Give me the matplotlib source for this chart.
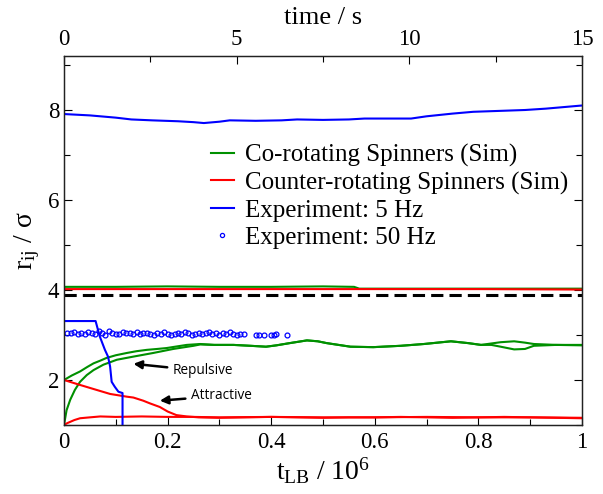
import matplotlib
matplotlib.use("Agg")
import matplotlib.pyplot as plt
from matplotlib.ticker import MultipleLocator
from matplotlib.lines import Line2D

plt.rcParams['font.family'] = ['Liberation Serif', 'DejaVu Serif']
plt.rcParams['mathtext.fontset'] = 'custom'
plt.rcParams['mathtext.rm'] = 'Liberation Serif'
plt.rcParams['mathtext.it'] = 'Liberation Serif:italic'

# ---------------- data ----------------
# Co-rotating (green), simulation time t_LB / 1e6
co_hi_t = [0.0, 0.1, 0.2, 0.3, 0.4, 0.5, 0.56, 0.57, 0.7, 0.85, 1.0]
co_hi_v = [4.07, 4.07, 4.08, 4.07, 4.07, 4.08, 4.07, 4.03, 4.03, 4.03, 4.03]

co_a_t = [0, 0.015, 0.031, 0.045, 0.057, 0.07, 0.082, 0.1, 0.121, 0.14, 0.16, 0.18,
          0.198, 0.22, 0.237, 0.25, 0.263, 0.29, 0.327, 0.36, 0.39, 0.41, 0.436, 0.469,
          0.49, 0.507, 0.53, 0.553, 0.597, 0.65, 0.695, 0.747, 0.78, 0.805, 0.843,
          0.869, 0.89, 0.907, 0.95, 1.0]
co_a_v = [2.0, 2.1, 2.19, 2.29, 2.37, 2.43, 2.49, 2.55, 2.6, 2.64, 2.67, 2.69,
          2.71, 2.75, 2.78, 2.79, 2.8, 2.78, 2.78, 2.76, 2.74, 2.77, 2.82, 2.88,
          2.86, 2.82, 2.78, 2.74, 2.73, 2.76, 2.8, 2.86, 2.82, 2.78, 2.84,
          2.86, 2.83, 2.8, 2.78, 2.78]

co_b_t = [0, 0.005, 0.012, 0.021, 0.031, 0.044, 0.057, 0.076, 0.102, 0.134, 0.172,
          0.211, 0.25, 0.263, 0.29, 0.327, 0.36, 0.39, 0.41, 0.436, 0.469, 0.49,
          0.507, 0.53, 0.553, 0.597, 0.65, 0.695, 0.747, 0.78, 0.805, 0.825, 0.843,
          0.869, 0.89, 0.907, 0.95, 1.0]
co_b_v = [1.0, 1.33, 1.56, 1.78, 1.96, 2.11, 2.22, 2.34, 2.45, 2.52, 2.6,
          2.69, 2.76, 2.79, 2.78, 2.78, 2.76, 2.74, 2.77, 2.82, 2.88, 2.86,
          2.82, 2.78, 2.74, 2.73, 2.76, 2.8, 2.86, 2.82, 2.78, 2.78, 2.74,
          2.68, 2.69, 2.76, 2.78, 2.77]

# Counter-rotating (red)
ct_hi_t = [0.0, 0.2, 0.4, 0.6, 0.8, 1.0]
ct_hi_v = [4.02, 4.02, 4.02, 4.02, 4.02, 4.01]

ct_a_t = [0, 0.031, 0.057, 0.089, 0.121, 0.134, 0.153, 0.166, 0.185, 0.2, 0.217,
          0.237, 0.26, 0.3, 0.35, 0.4, 0.45, 0.5, 0.55, 0.6, 0.65, 0.7, 0.75, 0.8,
          0.85, 0.9, 0.95, 1.0]
ct_a_v = [2.0, 1.89, 1.8, 1.69, 1.63, 1.61, 1.54, 1.48, 1.4, 1.3, 1.22,
          1.19, 1.17, 1.16, 1.17, 1.18, 1.17, 1.16, 1.17, 1.17, 1.18, 1.17, 1.16, 1.17,
          1.18, 1.17, 1.16, 1.15]

ct_b_t = [0, 0.006, 0.012, 0.02, 0.031, 0.05, 0.07, 0.1, 0.15, 0.2, 0.25, 0.3, 0.4,
          0.5, 0.6, 0.7, 0.8, 0.9, 1.0]
ct_b_v = [1.0, 1.04, 1.07, 1.11, 1.15, 1.17, 1.19, 1.18, 1.19, 1.18, 1.18, 1.17, 1.18,
          1.17, 1.17, 1.18, 1.17, 1.17, 1.16]

# Experiment 5 Hz (blue), real time in s
ex5_t = [0, 0.75, 1.5, 1.95, 2.55, 3.3, 3.75, 4.05, 4.5, 4.8, 5.55, 6.3, 6.75, 7.5,
         8.25, 8.7, 10.05, 10.5, 11.25, 11.85, 12.6, 13.35, 13.95, 14.55, 15.0]
ex5_v = [7.91, 7.88, 7.83, 7.79, 7.77, 7.75, 7.73, 7.71, 7.74, 7.77, 7.76, 7.77, 7.79, 7.78,
         7.79, 7.81, 7.81, 7.86, 7.92, 7.96, 7.98, 8.0, 8.03, 8.07, 8.1]

ex5b_t = [0, 0.915, 1.035, 1.185, 1.275, 1.335, 1.38, 1.47, 1.575, 1.695, 1.695]
ex5b_v = [3.31, 3.31, 2.97, 2.67, 2.52, 2.3, 1.96, 1.85, 1.74, 1.71, 0.5]

# Experiment 50 Hz (blue circles), real time in s
ex50_t = [0.1, 0.2, 0.3, 0.4, 0.5, 0.6, 0.7, 0.8, 0.9, 1.0, 1.1, 1.2, 1.3, 1.4, 1.5,
          1.6, 1.7, 1.8, 1.9, 2.0, 2.1, 2.2, 2.3, 2.4, 2.5, 2.6, 2.7, 2.8, 2.9, 3.0,
          3.1, 3.2, 3.3, 3.4, 3.5, 3.6, 3.7, 3.8, 3.9, 4.0, 4.1, 4.2, 4.3, 4.4, 4.5,
          4.6, 4.7, 4.8, 4.9, 5.0, 5.1, 5.2, 5.55, 5.65, 5.78, 6.0, 6.08, 6.15, 6.45]
ex50_v = [3.05, 3.04, 3.06, 3.03, 3.05, 3.02, 3.07, 3.04, 3.03, 3.08, 3.05, 3.01, 3.09, 3.04, 3.02,
          3.03, 3.06, 3.04, 3.05, 3.03, 3.06, 3.02, 3.04, 3.05, 3.03, 3.01, 3.04, 3.03, 3.06, 3.02,
          3.0, 3.03, 3.05, 3.02, 3.06, 3.04, 3.01, 3.03, 3.05, 3.02, 3.04, 3.06, 3.03, 3.05, 3.01,
          3.04, 3.02, 3.06, 3.03, 3.01, 3.03, 3.02, 3.0, 3.0, 3.0, 2.99, 3.01, 3.02, 3.0]

dash_level = 3.88

# ---------------- plot ----------------
fig = plt.figure(figsize=(6.03, 4.94), dpi=100)
ax = fig.add_axes([64/603, 1-425/494, (582-64)/603, (425-56)/494])
ax2 = ax.twiny()

GREEN = '#009000'
RED = '#ff0000'
BLUE = '#0000ff'
lw = 1.5

ax.axhline(dash_level, color='black', lw=2.2, ls=(0, (4, 2)))
ax.plot(co_hi_t, co_hi_v, color=GREEN, lw=lw)
ax.plot(ct_hi_t, ct_hi_v, color=RED, lw=lw)
ax.plot(co_a_t, co_a_v, color=GREEN, lw=lw)
ax.plot(co_b_t, co_b_v, color=GREEN, lw=lw)
ax.plot(ct_a_t, ct_a_v, color=RED, lw=lw)
ax.plot(ct_b_t, ct_b_v, color=RED, lw=lw)

ax2.plot(ex5_t, ex5_v, color=BLUE, lw=lw)
ax2.plot(ex5b_t, ex5b_v, color=BLUE, lw=lw)
ax2.plot(ex50_t, ex50_v, ls='none', marker='o', ms=3.5, mfc='none', mec=BLUE, mew=0.9)

ax.set_xlim(0, 1)
ax.set_ylim(1, 9.2)
ax2.set_xlim(0, 15)

ax.xaxis.set_minor_locator(MultipleLocator(0.1))
ax.yaxis.set_minor_locator(MultipleLocator(1))
ax2.xaxis.set_major_locator(MultipleLocator(5))
ax2.xaxis.set_minor_locator(MultipleLocator(2.5))

ax.set_xticks([0, 0.2, 0.4, 0.6, 0.8, 1.0])
ax.set_xticklabels(['0', '0.2', '0.4', '0.6', '0.8', '1'])
ax.set_yticks([2, 4, 6, 8])
ax.set_yticklabels(['2', '4', '6', '8'])

ax.tick_params(which='both', direction='in', right=True, labelsize=16.5)
ax.tick_params(which='major', length=6, width=0.8)
ax.tick_params(which='minor', length=4.5, width=0.8)
ax.tick_params(axis='x', pad=5)
ax2.tick_params(which='both', direction='in', labelsize=16.5)
ax2.tick_params(which='major', length=6, width=0.8)
ax2.tick_params(which='minor', length=4.5, width=0.8)
ax2.tick_params(axis='x', pad=4)

for a in (ax, ax2):
    for s in a.spines.values():
        s.set_linewidth(0.9)
        s.set_color('#222222')

ax.set_xlabel('t$_{\\rm LB}$ / 10$^6$', fontsize=20, labelpad=2)
ax.set_ylabel('r$_{\\rm ij}$ / σ', fontsize=20, labelpad=4)
ax2.set_xlabel('time / s', fontsize=19, labelpad=4)

handles = [Line2D([], [], color=GREEN, lw=lw),
           Line2D([], [], color=RED, lw=lw),
           Line2D([], [], color=BLUE, lw=lw),
           Line2D([], [], ls='none', marker='o', ms=3, mfc='none', mec=BLUE, mew=0.9)]
labels = ['Co-rotating Spinners (Sim)', 'Counter-rotating Spinners (Sim)',
          'Experiment: 5 Hz', 'Experiment: 50 Hz']
ax.legend(handles, labels, loc='upper left', bbox_to_anchor=(0.284, 0.762), frameon=False,
          fontsize=18, handlelength=0.9, handletextpad=0.45, labelspacing=0.18,
          borderaxespad=0, borderpad=0)

afont = dict(family=['Open Sans', 'DejaVu Sans'], fontsize=9.8)
ax.annotate('Repulsive', xy=(0.134, 2.36), xytext=(0.21, 2.2), va='center', ha='left',
            arrowprops=dict(arrowstyle='-|>', color='black', lw=1.8, shrinkA=2, shrinkB=0,
                            mutation_scale=12), **afont)
ax.annotate('Attractive', xy=(0.185, 1.54), xytext=(0.245, 1.65), va='center', ha='left',
            arrowprops=dict(arrowstyle='-|>', color='black', lw=1.8, shrinkA=2, shrinkB=0,
                            mutation_scale=12), **afont)

fig.savefig('out.png', dpi=100)
